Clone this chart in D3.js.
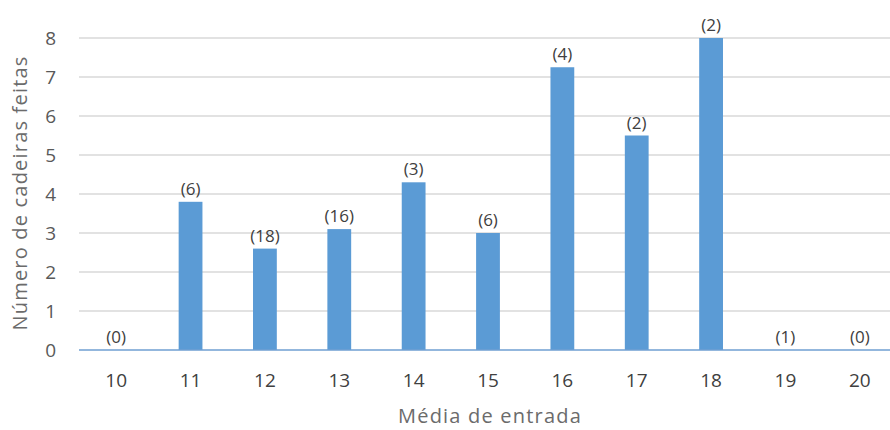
<!DOCTYPE html>
<html><head><meta charset="utf-8">
<script src="https://cdn.jsdelivr.net/npm/d3@7"></script>
<style>body{margin:0;background:#fff}svg{display:block}text{font-family:"Open Sans",sans-serif}</style>
</head><body><svg id="c" width="890" height="430"></svg>
<script>
const categories = ["10","11","12","13","14","15","16","17","18","19","20"];
const values = [0, 3.8, 2.6, 3.1, 4.3, 3.0, 7.25, 5.5, 8, 0, 0];
const counts = ["(0)","(6)","(18)","(16)","(3)","(6)","(4)","(2)","(2)","(1)","(0)"];
const yTicks = [0,1,2,3,4,5,6,7,8];

const svg = d3.select("#c");
const x = d3.scaleBand().domain(categories).range([79, 897]).paddingInner(0.68).paddingOuter(0.34);
const y = d3.scaleLinear().domain([0, 8]).range([350, 38]);

svg.append("g").selectAll("line").data(yTicks.filter(d=>d>0)).join("line")
  .attr("x1", 79).attr("x2", 890).attr("y1", d=>y(d)).attr("y2", d=>y(d))
  .attr("stroke", "#d9d9d9").attr("stroke-width", 1.5);

svg.append("g").selectAll("text").data(yTicks).join("text")
  .attr("x", 56).attr("y", d=>y(d)).attr("dy", "0.36em").attr("text-anchor", "end")
  .attr("font-size", 19).attr("fill", "#595959").text(d=>d);

svg.append("g").selectAll("rect").data(values).join("rect")
  .attr("x", (d,i)=>x(categories[i])).attr("width", x.bandwidth())
  .attr("y", d=>y(d)).attr("height", d=>y(0)-y(d)).attr("fill", "#5b9bd5");

svg.append("line").attr("x1", 79).attr("x2", 890).attr("y1", y(0)).attr("y2", y(0))
  .attr("stroke", "#6f9fd2").attr("stroke-width", 1.5);

svg.append("g").selectAll("text").data(counts).join("text")
  .attr("x", (d,i)=>x(categories[i]) + x.bandwidth()/2).attr("y", (d,i)=>y(values[i]) - 7)
  .attr("text-anchor", "middle").attr("font-size", 17).attr("fill", "#404040").text(d=>d);

svg.append("g").selectAll("text").data(categories).join("text")
  .attr("x", d=>x(d) + x.bandwidth()/2).attr("y", 387).attr("text-anchor", "middle")
  .attr("font-size", 19).attr("fill", "#404040").text(d=>d);

svg.append("text").attr("x", 490).attr("y", 423).attr("text-anchor", "middle")
  .attr("font-size", 20).attr("letter-spacing", 1.2).attr("fill", "#6b6b6b").text("Média de entrada");

svg.append("text").attr("transform", "translate(27,193) rotate(-90)").attr("text-anchor", "middle")
  .attr("font-size", 20).attr("letter-spacing", 1.2).attr("fill", "#6b6b6b").text("Número de cadeiras feitas");
</script></body></html>
